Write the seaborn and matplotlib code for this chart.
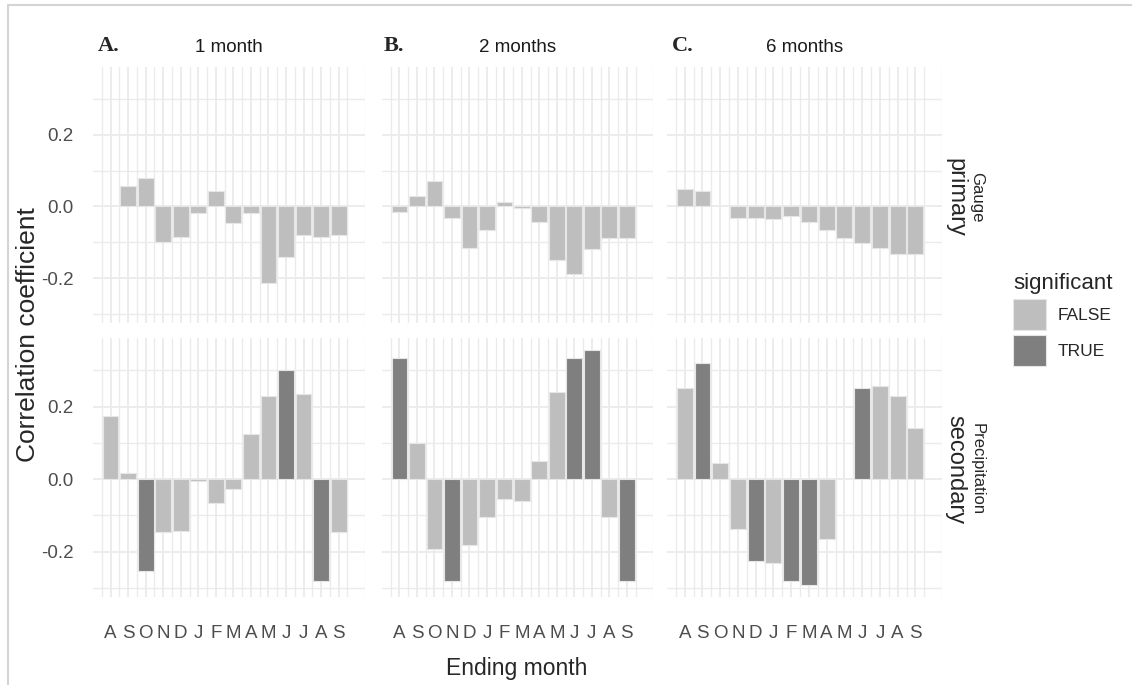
import numpy as np
import pandas as pd
import matplotlib
matplotlib.use("Agg")
import matplotlib.pyplot as plt
from matplotlib.lines import Line2D
from matplotlib.patches import Patch
import seaborn as sns

nan = np.nan

# ---- data -----------------------------------------------------------------
months = ["A", "S", "O", "N", "D", "J", "F", "M", "A", "M", "J", "J", "A", "S"]
windows = ["1 month", "2 months", "6 months"]
panel_tags = ["A.", "B.", "C."]
row_top = ["Gauge", "Precipitation"]
row_bottom = ["primary", "secondary"]
levels = ["FALSE", "TRUE"]

# correlation coefficient by ending month (gauge / primary row)
gauge_1m = [nan, 0.057, 0.079, -0.100, -0.085, -0.019, 0.042, -0.046, -0.019,
            -0.213, -0.142, -0.080, -0.085, -0.080]
gauge_2m = [-0.016, 0.029, 0.072, -0.031, -0.116, -0.065, 0.012, -0.005, -0.044,
            -0.148, -0.188, -0.120, -0.088, -0.088]
gauge_6m = [0.050, 0.044, nan, -0.031, -0.031, -0.036, -0.026, -0.044, -0.065,
            -0.087, -0.103, -0.116, -0.132, -0.132]

# correlation coefficient by ending month (precipitation / secondary row)
precip_1m = [0.174, 0.018, -0.254, -0.147, -0.143, -0.005, -0.065, -0.026, 0.123,
             0.230, 0.302, 0.234, -0.282, -0.147]
precip_2m = [0.334, 0.100, -0.193, -0.281, -0.181, -0.104, -0.054, -0.059, 0.050,
             0.241, 0.334, 0.356, -0.104, -0.281]
precip_6m = [0.251, 0.319, 0.044, -0.137, -0.226, -0.231, -0.281, -0.293, -0.165,
             nan, 0.251, 0.256, 0.229, 0.140]

# significance flags
sig_gauge_1m = [False] * 14
sig_gauge_2m = [False] * 14
sig_gauge_6m = [False] * 14
sig_precip_1m = [False, False, True, False, False, False, False, False, False,
                 False, True, False, True, False]
sig_precip_2m = [True, False, False, True, False, False, False, False, False,
                 False, True, True, False, True]
sig_precip_6m = [False, True, False, False, True, False, True, True, False,
                 False, True, False, False, False]

values = [[gauge_1m, gauge_2m, gauge_6m], [precip_1m, precip_2m, precip_6m]]
flags = [[sig_gauge_1m, sig_gauge_2m, sig_gauge_6m],
         [sig_precip_1m, sig_precip_2m, sig_precip_6m]]

frames = []
for r in range(2):
    for c in range(3):
        frames.append(pd.DataFrame({
            "row": r, "col": c,
            "pos": np.arange(len(months)),
            "r": values[r][c],
            "significant": ["TRUE" if f else "FALSE" for f in flags[r][c]],
        }))
df = pd.concat(frames, ignore_index=True).dropna(subset=["r"])

# ---- style ----------------------------------------------------------------
sns.set_theme(style="white")
sans = ["Liberation Sans", "DejaVu Sans"]
plt.rcParams["font.family"] = sans

palette = {"FALSE": "#BEBEBE", "TRUE": "#7F7F7F"}
grid_col = "#EBEBEB"
tick_col = "#4D4D4D"

W, H = 1132, 685
fig = plt.figure(figsize=(W / 100, H / 100), dpi=100)

def fx(px):
    return px / W

def fy(py):
    return 1 - py / H

col_x = [(93, 365), (382, 653), (667, 942)]
row_y = [(67, 323), (338, 597)]

for r in range(2):
    for c in range(3):
        x0, x1 = col_x[c]
        y0, y1 = row_y[r]
        ax = fig.add_axes([fx(x0), fy(y1), fx(x1) - fx(x0), (y1 - y0) / H])
        sub = df[(df["row"] == r) & (df["col"] == c)]
        sns.barplot(data=sub, x="pos", y="r", hue="significant",
                    order=list(range(len(months))), hue_order=levels,
                    palette=palette, dodge=False, width=0.9, errorbar=None,
                    edgecolor="#E6E6E6", linewidth=0.8, legend=False, ax=ax,
                    zorder=3)
        ax.set_xlim(-1, 14)
        ax.set_ylim(-0.325, 0.389)
        ax.set_xticks(range(len(months)))
        ax.set_xticks(np.arange(-1, 14.01, 1.0) + 0.5, minor=True)
        ax.set_yticks([-0.2, 0.0, 0.2])
        ax.set_yticks([-0.3, -0.1, 0.1, 0.3], minor=True)
        ax.grid(True, which="major", color=grid_col, linewidth=1.3, zorder=0)
        ax.grid(True, which="minor", color=grid_col, linewidth=1.0, zorder=0)
        ax.set_axisbelow(True)
        for s in ax.spines.values():
            s.set_visible(False)
        ax.tick_params(which="both", length=0)
        ax.set_xlabel("")
        ax.set_ylabel("")
        if r == 1:
            ax.set_xticklabels(months, fontsize=13.5, color=tick_col)
            ax.tick_params(axis="x", pad=20)
        else:
            ax.set_xticklabels([])
        if c == 0:
            ax.set_yticklabels(["-0.2", "0.0", "0.2"], fontsize=13.5,
                               color=tick_col)
            ax.tick_params(axis="y", pad=14)
        else:
            ax.set_yticklabels([])
        if r == 0:
            fig.text(fx((x0 + x1) / 2), fy(48), windows[c], fontsize=13.5,
                     color="#1A1A1A", ha="center", va="center")

# panel tags
for tag, px in zip(panel_tags, [98, 384, 672]):
    fig.text(fx(px), fy(46), tag, family=["Liberation Serif", "DejaVu Serif"],
             weight="bold", fontsize=16, ha="left", va="center")

# right-hand strip labels
for r in range(2):
    yc = (row_y[r][0] + row_y[r][1]) / 2 + 2
    fig.text(fx(977), fy(yc), row_top[r], fontsize=12,
             rotation=270, ha="center", va="center")
    fig.text(fx(955), fy(yc), row_bottom[r], fontsize=17,
             rotation=270, ha="center", va="center")

# axis titles
fig.text(fx(28), fy(335), "Correlation coefficient",
         fontsize=19, rotation=90, ha="center", va="center")
fig.text(fx(517), fy(669), "Ending month", fontsize=16.5, ha="center",
         va="center")

# legend
handles = [Patch(facecolor=palette[k], edgecolor="#E6E6E6", linewidth=0.8)
           for k in levels]
fig.legend(handles, levels, title="significant", loc="upper left",
           bbox_to_anchor=(fx(1013), fy(273)), frameon=False, fontsize=12.5,
           title_fontsize=16, handlelength=1.9, handleheight=2.36,
           labelspacing=0.29, handletextpad=0.69, borderpad=0,
           borderaxespad=0, alignment="left")

# thin frame along the top and left edges
fig.add_artist(Line2D([fx(8), 1], [fy(5), fy(5)], color="#D4D4D4", lw=1.5))
fig.add_artist(Line2D([fx(8), fx(8)], [fy(5), 0], color="#D4D4D4", lw=1.5))

fig.savefig("out.png", dpi=100, facecolor="white")
